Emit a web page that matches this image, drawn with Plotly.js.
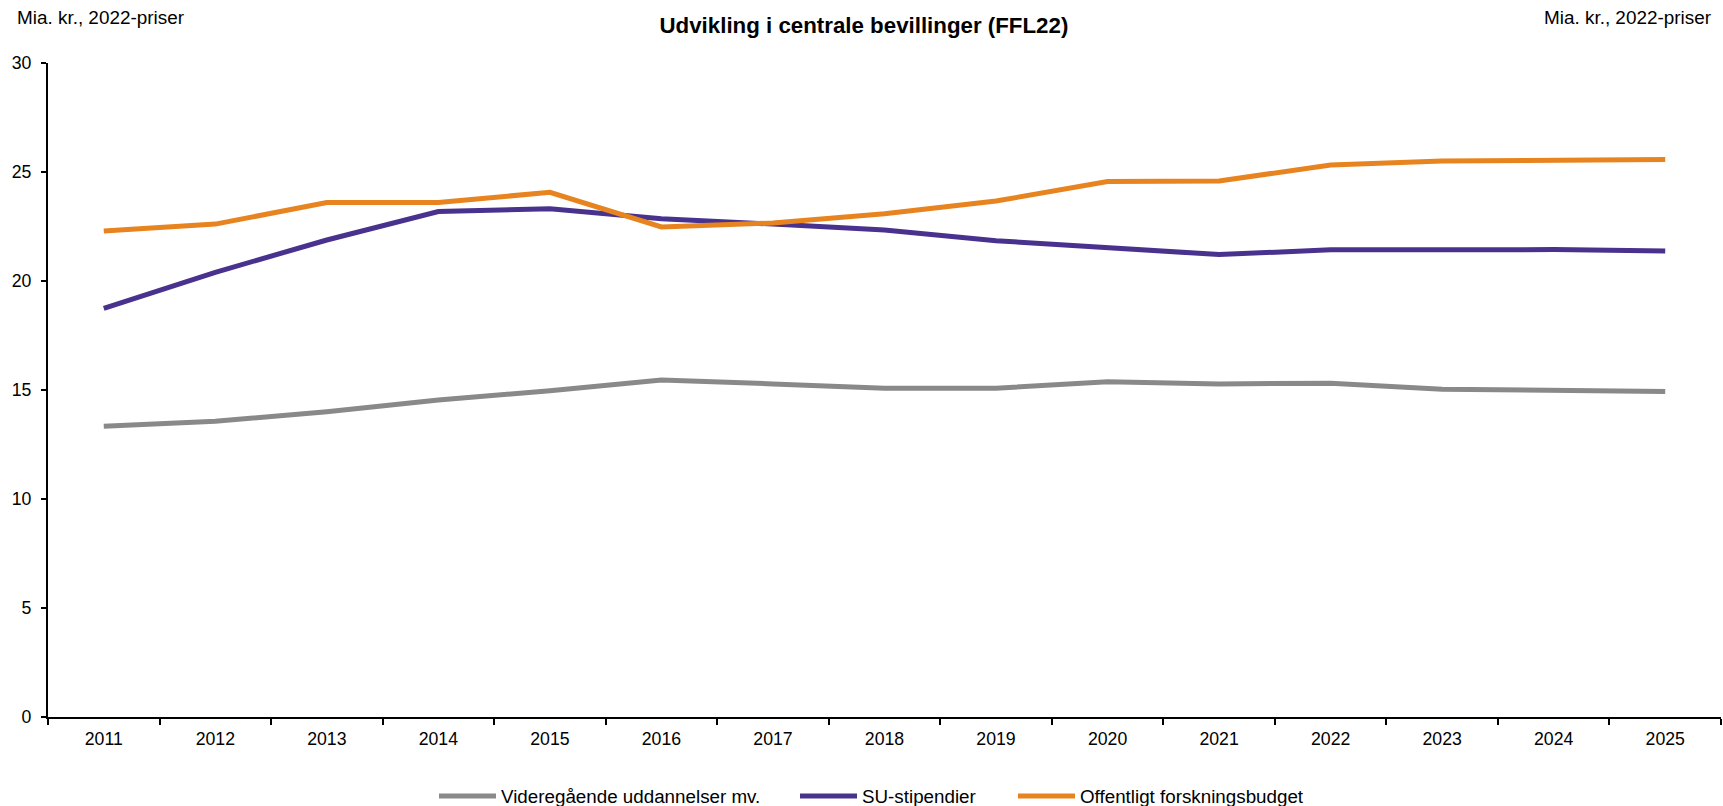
<!DOCTYPE html>
<html>
<head>
<meta charset="utf-8">
<script src="https://cdn.plot.ly/plotly-3.0.1.min.js"></script>
<style>
html,body{margin:0;padding:0;background:#fff;}
#chart{width:1723px;height:806px;}
</style>
</head>
<body>
<div id="chart"></div>
<script>
const years = ["2011","2012","2013","2014","2015","2016","2017","2018","2019","2020","2021","2022","2023","2024","2025"];
const videregaaende = [13.34,13.57,14.0,14.54,14.97,15.46,15.28,15.08,15.08,15.38,15.28,15.31,15.04,14.98,14.93];
const suStipendier = [18.74,20.40,21.88,23.19,23.31,22.86,22.61,22.34,21.85,21.55,21.21,21.43,21.46,21.44,21.38];
const forskning = [22.29,22.61,23.60,23.60,24.07,22.48,22.66,23.09,23.67,24.56,24.59,25.32,25.51,25.55,25.57];
const seriesNames = ["Videregående uddannelser mv.","SU-stipendier","Offentligt forskningsbudget"];
const titleText = "Udvikling i centrale bevillinger (FFL22)";
const unitText = "Mia. kr., 2022-priser";
const yTicks = [0,5,10,15,20,25,30];

const font = "Arial, 'Liberation Sans', sans-serif";
const colors = ["#898989","#48328E","#E8841F"];
const seriesData = [videregaaende, suStipendier, forskning];
const legendIds = ['legend','legend2','legend3'];

const traces = seriesData.map((vals,i)=>({
  type:'scatter', mode:'lines', x:years, y:vals, name:seriesNames[i],
  legend:legendIds[i],
  line:{color:colors[i], width:5}, hoverinfo:'skip'
}));

const L = 48, W = 1723-48-2;
const legendLeft = [434, 795, 1013];
const legendY = (716.6-796)/654;
function legendCfg(px){
  return {orientation:'h', x:(px-L)/W, xanchor:'left', y:legendY, yanchor:'middle',
    font:{size:18.8}, itemwidth:57, bgcolor:'rgba(0,0,0,0)', borderwidth:0};
}

const layout = {
  width:1723, height:806,
  paper_bgcolor:'#fff', plot_bgcolor:'#fff',
  margin:{l:L, r:2, t:63, b:89, autoexpand:false},
  font:{family:font, size:18, color:'#000'},
  showlegend:true,
  title:{text:'<b>'+titleText+'</b>', font:{family:font, size:22.3, color:'#000'},
    x:0.5014, xref:'container', xanchor:'center', y:1-25/806, yref:'container', yanchor:'middle'},
  xaxis:{type:'category', showline:true, linecolor:'#000', linewidth:2,
    ticks:'outside', tickson:'boundaries', ticklen:6, tickwidth:2, tickcolor:'#000',
    showgrid:false, zeroline:false, tickfont:{size:17.7}, ticklabelstandoff:5, range:[-0.5,14.5], fixedrange:true},
  yaxis:{range:[0,30], tickvals:yTicks, ticktext:yTicks.map(String), showline:true, linecolor:'#000', linewidth:2,
    ticks:'outside', ticklen:5, tickwidth:2, tickcolor:'#000', showgrid:false, zeroline:false,
    tickfont:{size:17.7}, ticklabelstandoff:6, fixedrange:true},
  legend:legendCfg(legendLeft[0]),
  legend2:legendCfg(legendLeft[1]),
  legend3:legendCfg(legendLeft[2]),
  annotations:[
    {text:unitText, xref:'paper', yref:'paper', x:(15-L)/W, y:(716.6-17)/654, xanchor:'left', yanchor:'middle', showarrow:false, font:{size:18.9}},
    {text:unitText, xref:'paper', yref:'paper', x:(1713-L)/W, y:(716.6-17)/654, xanchor:'right', yanchor:'middle', showarrow:false, font:{size:18.9}}
  ]
};

Plotly.newPlot('chart', traces, layout, {displayModeBar:false, staticPlot:true});
</script>
</body>
</html>
